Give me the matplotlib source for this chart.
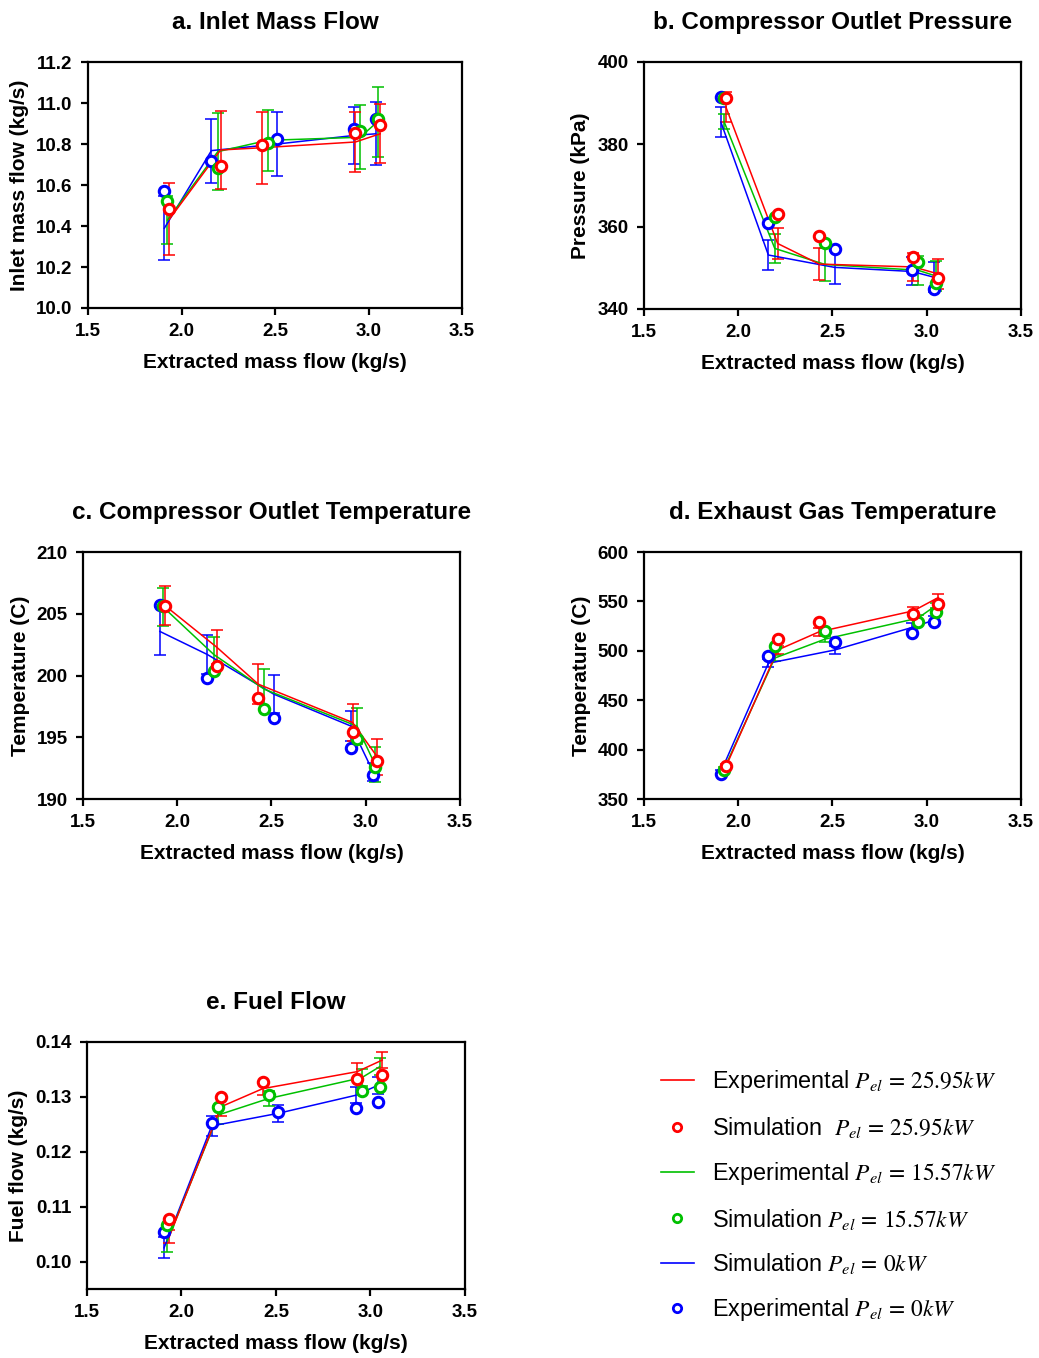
import matplotlib.pyplot as plt
from matplotlib.lines import Line2D

plt.rcParams['font.family'] = ['Liberation Sans', 'DejaVu Sans']
plt.rcParams['mathtext.fontset'] = 'stix'

# extracted mass flow (kg/s) for each load case
x_red = [1.935, 2.209, 2.430, 2.930, 3.062]
x_green = [1.925, 2.194, 2.461, 2.954, 3.049]
x_blue = [1.908, 2.160, 2.511, 2.923, 3.039]

# a. inlet mass flow
a_sim_red = [10.484, 10.693, 10.793, 10.855, 10.894]
a_exp_red = [10.433, 10.771, 10.782, 10.810, 10.850]
a_err_red = [0.176, 0.189, 0.176, 0.146, 0.143]
a_sim_green = [10.523, 10.681, 10.806, 10.863, 10.920]
a_exp_green = [10.429, 10.763, 10.818, 10.833, 10.909]
a_err_green = [0.117, 0.187, 0.148, 0.156, 0.171]
a_sim_blue = [10.572, 10.717, 10.823, 10.873, 10.924]
a_exp_blue = [10.389, 10.768, 10.800, 10.842, 10.850]
a_err_blue = [0.157, 0.156, 0.156, 0.140, 0.153]

# b. compressor outlet pressure
b_sim_red = [391.3, 363.0, 357.8, 352.5, 347.4]
b_exp_red = [389.0, 355.9, 350.9, 350.2, 348.5]
b_err_red = [3.6, 3.8, 3.9, 3.5, 3.6]
b_sim_green = [391.3, 362.4, 356.1, 351.3, 346.2]
b_exp_green = [385.5, 354.7, 350.8, 349.4, 348.0]
b_err_green = [1.9, 3.5, 3.9, 3.5, 3.6]
b_sim_blue = [391.5, 360.9, 354.5, 349.5, 344.9]
b_exp_blue = [385.4, 353.1, 350.1, 349.1, 347.7]
b_err_blue = [3.6, 3.6, 4.0, 3.4, 3.6]

# c. compressor outlet temperature
c_sim_red = [205.66, 200.8, 198.2, 195.45, 193.1]
c_exp_red = [205.66, 202.3, 199.3, 196.2, 193.4]
c_err_red = [1.57, 1.4, 1.62, 1.46, 1.46]
c_sim_green = [205.6, 200.4, 197.3, 194.9, 192.6]
c_exp_green = [205.55, 201.7, 198.9, 195.9, 192.8]
c_err_green = [1.57, 1.46, 1.62, 1.48, 1.43]
c_sim_blue = [205.68, 199.84, 196.55, 194.14, 191.94]
c_exp_blue = [203.57, 201.7, 198.5, 195.9, 192.2]
c_err_blue = [1.94, 1.57, 1.57, 1.21, 0.7]

# d. exhaust gas temperature
d_sim_red = [383.5, 511.9, 529.1, 537.1, 546.9]
d_exp_red = [383.0, 500.8, 519.3, 540.5, 554.0]
d_err_red = [2.0, 4.0, 4.0, 4.0, 4.0]
d_sim_green = [379.0, 504.8, 520.3, 529.1, 539.2]
d_exp_green = [380.5, 492.7, 511.9, 533.1, 545.9]
d_err_green = [2.0, 3.0, 3.0, 3.0, 3.0]
d_sim_blue = [375.4, 495.0, 508.6, 518.0, 529.4]
d_exp_blue = [377.5, 487.4, 500.8, 523.7, 531.1]
d_err_blue = [2.0, 4.0, 4.0, 4.0, 4.0]

# e. fuel flow
e_sim_red = [0.1078, 0.1300, 0.1327, 0.1332, 0.1340]
e_exp_red = [0.1045, 0.1282, 0.1315, 0.1346, 0.1367]
e_err_red = [0.0012, 0.0016, 0.0011, 0.0015, 0.0015]
e_sim_green = [0.1067, 0.1282, 0.1303, 0.1311, 0.1318]
e_exp_green = [0.1038, 0.1267, 0.1297, 0.1335, 0.1355]
e_err_green = [0.0021, 0.0016, 0.0014, 0.0016, 0.0016]
e_sim_blue = [0.1054, 0.1253, 0.1272, 0.1279, 0.1291]
e_exp_blue = [0.1025, 0.1247, 0.1270, 0.1303, 0.1321]
e_err_blue = [0.0019, 0.0019, 0.0016, 0.0015, 0.0016]

RED, GREEN, BLUE = '#ff0000', '#00c000', '#0000ff'

panels = [
    dict(title='a. Inlet Mass Flow', ylabel='Inlet mass flow (kg/s)',
         ylim=(10.0, 11.2), yticks=[10.0, 10.2, 10.4, 10.6, 10.8, 11.0, 11.2], fmt='{:.1f}',
         pos=[0.0847, 0.7732, 0.3600, 0.1811],
         red=(a_sim_red, a_exp_red, a_err_red), green=(a_sim_green, a_exp_green, a_err_green),
         blue=(a_sim_blue, a_exp_blue, a_err_blue)),
    dict(title='b. Compressor Outlet Pressure', ylabel='Pressure (kPa)',
         ylim=(340, 400), yticks=[340, 360, 380, 400], fmt='{:.0f}',
         pos=[0.6198, 0.7725, 0.3628, 0.1819],
         red=(b_sim_red, b_exp_red, b_err_red), green=(b_sim_green, b_exp_green, b_err_green),
         blue=(b_sim_blue, b_exp_blue, b_err_blue)),
    dict(title='c. Compressor Outlet Temperature', ylabel='Temperature (C)',
         ylim=(190, 210), yticks=[190, 195, 200, 205, 210], fmt='{:.0f}',
         pos=[0.0799, 0.4116, 0.3628, 0.1819],
         red=(c_sim_red, c_exp_red, c_err_red), green=(c_sim_green, c_exp_green, c_err_green),
         blue=(c_sim_blue, c_exp_blue, c_err_blue)),
    dict(title='d. Exhaust Gas Temperature', ylabel='Temperature (C)',
         ylim=(350, 600), yticks=[350, 400, 450, 500, 550, 600], fmt='{:.0f}',
         pos=[0.6198, 0.4116, 0.3628, 0.1819],
         red=(d_sim_red, d_exp_red, d_err_red), green=(d_sim_green, d_exp_green, d_err_green),
         blue=(d_sim_blue, d_exp_blue, d_err_blue)),
    dict(title='e. Fuel Flow', ylabel='Fuel flow (kg/s)',
         ylim=(0.095, 0.14), yticks=[0.10, 0.11, 0.12, 0.13, 0.14], fmt='{:.2f}',
         pos=[0.0837, 0.0508, 0.3638, 0.1819],
         red=(e_sim_red, e_exp_red, e_err_red), green=(e_sim_green, e_exp_green, e_err_green),
         blue=(e_sim_blue, e_exp_blue, e_err_blue)),
]

fig = plt.figure(figsize=(10.39, 13.58), dpi=100)

for p in panels:
    ax = fig.add_axes(p['pos'])
    # experimental lines with error bars first, simulation circles on top
    for key, xs, col in [('blue', x_blue, BLUE), ('green', x_green, GREEN), ('red', x_red, RED)]:
        sim, exp, err = p[key]
        ax.errorbar(xs, exp, yerr=err, color=col, lw=1.1, elinewidth=1.1,
                    capsize=4, capthick=1.1, zorder=2)
    for key, xs, col in [('blue', x_blue, BLUE), ('green', x_green, GREEN), ('red', x_red, RED)]:
        sim, exp, err = p[key]
        ax.plot(xs, sim, 'o', ms=7.5, mfc='white', mec=col, mew=2.2, zorder=3)

    ax.set_xlim(1.5, 3.5)
    ax.set_ylim(*p['ylim'])
    ax.set_xticks([1.5, 2.0, 2.5, 3.0, 3.5])
    ax.set_xticklabels(['1.5', '2.0', '2.5', '3.0', '3.5'])
    ax.set_yticks(p['yticks'])
    ax.set_yticklabels([p['fmt'].format(v) for v in p['yticks']])
    for s in ax.spines.values():
        s.set_linewidth(1.6)
    ax.tick_params(direction='out', length=5, width=1.6, labelsize=13.5, pad=6)
    for lab in ax.get_xticklabels() + ax.get_yticklabels():
        lab.set_fontweight('bold')
    ax.set_title(p['title'], fontsize=17.5, fontweight='bold', pad=24)
    ax.set_xlabel('Extracted mass flow (kg/s)', fontsize=15, fontweight='bold', labelpad=9)
    ax.set_ylabel(p['ylabel'], fontsize=15, fontweight='bold', labelpad=5)

handles = [
    Line2D([], [], color=RED, lw=1.2),
    Line2D([], [], ls='none', marker='o', ms=6, mfc='white', mec=RED, mew=2),
    Line2D([], [], color=GREEN, lw=1.2),
    Line2D([], [], ls='none', marker='o', ms=6, mfc='white', mec=GREEN, mew=2),
    Line2D([], [], color=BLUE, lw=1.2),
    Line2D([], [], ls='none', marker='o', ms=6, mfc='white', mec=BLUE, mew=2),
]
labels = [
    r'Experimental $P_{el}\,=\,25.95kW$',
    r'Simulation  $P_{el}\,=\,25.95kW$',
    r'Experimental $P_{el}\,=\,15.57kW$',
    r'Simulation $P_{el}\,=\,15.57kW$',
    r'Simulation $P_{el}\,=\,0kW$',
    r'Experimental $P_{el}\,=\,0kW$',
]
fig.legend(handles, labels, loc='upper left', bbox_to_anchor=(0.616, 0.229),
           frameon=False, fontsize=16.8, handlelength=1.4, handletextpad=0.8,
           labelspacing=0.85)

fig.savefig('out.png', dpi=100)
